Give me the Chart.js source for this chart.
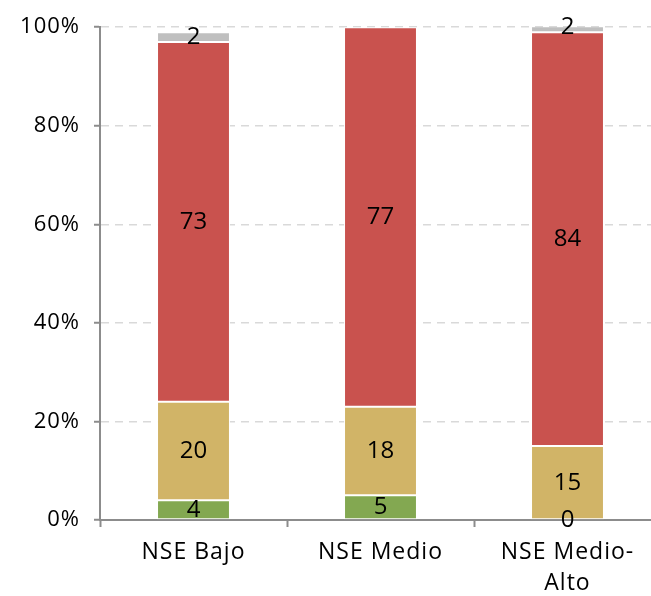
<!DOCTYPE html>
<html>
<head>
<meta charset="utf-8">
<script src="https://cdn.jsdelivr.net/npm/chart.js@4/dist/chart.umd.min.js"></script>
<style>
  html, body { margin: 0; padding: 0; background: #fff; overflow: hidden; }
  #wrap { width: 651px; height: 596px; overflow: hidden; }
  canvas { display: block; }
</style>
</head>
<body>
<div id="wrap"><canvas id="c" width="670" height="596"></canvas></div>
<script>
// Categories and share (%) per response group
const categories = ['NSE Bajo', 'NSE Medio', ['NSE Medio-', 'Alto']];
const greenValues = [4, 5, 0];
const tanValues = [20, 18, 15];
const redValues = [73, 77, 84];
const grayValues = [2, 0, 2];
const yTicks = [0, 20, 40, 60, 80, 100];

const FONT = '"Open Sans", "Noto Sans", sans-serif';

// Slightly open letter spacing for all canvas text
const textSpacing = {
  id: 'textSpacing',
  beforeDraw(chart) { chart.ctx.letterSpacing = '1px'; }
};

// Draws each segment's value in the middle of the segment
const segmentLabels = {
  id: 'segmentLabels',
  afterDatasetsDraw(chart) {
    const ctx = chart.ctx;
    ctx.save();
    ctx.letterSpacing = '0px';
    ctx.font = '24px ' + FONT;
    ctx.fillStyle = '#000';
    ctx.textAlign = 'center';
    ctx.textBaseline = 'middle';
    chart.data.datasets.forEach((ds, i) => {
      const meta = chart.getDatasetMeta(i);
      meta.data.forEach((bar, j) => {
        const v = ds.data[j];
        if (v === null || v === undefined) return;
        if (v === 0 && i === 3) return;
        const p = bar.getProps(['x', 'y', 'base'], true);
        ctx.fillText(String(v), p.x, (p.y + p.base) / 2);
      });
    });
    ctx.restore();
  }
};

const mk = (data, color) => ({
  data,
  backgroundColor: color,
  borderColor: '#ffffff',
  borderWidth: 1,
  borderSkipped: false,
  categoryPercentage: 1,
  barPercentage: 0.39
});

new Chart(document.getElementById('c'), {
  type: 'bar',
  data: {
    labels: categories,
    datasets: [
      mk(greenValues, '#83a851'),
      mk(tanValues, '#d1b467'),
      mk(redValues, '#c9524e'),
      mk(grayValues, '#bfbfbf')
    ]
  },
  options: {
    responsive: false,
    animation: false,
    layout: { padding: { top: 24, right: 9, left: 0, bottom: 0 } },
    plugins: { legend: { display: false }, tooltip: { enabled: false } },
    scales: {
      x: {
        stacked: true,
        offset: true,
        grid: {
          offset: true,
          drawOnChartArea: false,
          drawTicks: true,
          tickLength: 7,
          tickColor: '#8c8c8c',
          tickWidth: 2,
          color: '#8c8c8c'
        },
        border: { display: true, color: '#8c8c8c', width: 2 },
        ticks: {
          color: '#000',
          font: { family: FONT, size: 23, lineHeight: 1.35 },
          padding: 10,
          maxRotation: 0,
          autoSkip: false
        },
        afterFit(scale) { scale.height = 76; }
      },
      y: {
        stacked: true,
        min: 0,
        max: 100,
        afterBuildTicks(scale) { scale.ticks = yTicks.map(v => ({ value: v })); },
        grid: {
          color: (c) => c.tick && c.tick.value === 0 ? 'rgba(0,0,0,0)' : '#d9d9d9',
          lineWidth: 1.5,
          drawTicks: true,
          tickLength: 6,
          tickColor: '#8c8c8c',
          tickWidth: 2
        },
        border: { display: true, color: '#8c8c8c', width: 2, dash: [8, 6] },
        ticks: {
          color: '#000',
          font: { family: FONT, size: 22 },
          padding: 14,
          callback: (v) => v + '%'
        },
        afterFit(scale) { scale.width = 100; }
      }
    }
  },
  plugins: [textSpacing, segmentLabels]
});
</script>
</body>
</html>
